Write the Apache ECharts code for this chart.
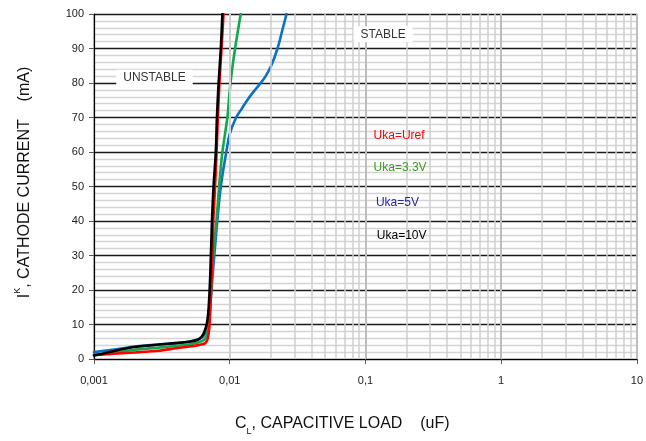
<!DOCTYPE html>
<html>
<head>
<meta charset="utf-8">
<script src="https://cdn.jsdelivr.net/npm/echarts@6/dist/echarts.min.js"></script>
<style>html,body{margin:0;padding:0;background:#fff}#c{width:646px;height:441px}</style>
</head>
<body>
<div id="c"></div>
<script>
// ---- data ----
const xTickValues = [0.001, 0.01, 0.1, 1, 10];
const xTickLabels = ['0,001', '0,01', '0,1', '1', '10'];
const minorMultipliers = [2, 3, 4, 5, 6, 7, 8, 9];
const minorDecades = [0.001, 0.01, 0.1, 1];

const seriesNames = ['Uka=5V', 'Uka=3.3V', 'Uka=Uref', 'Uka=10V'];

const curve5V = [
  [0.001, 2.0], [0.0015, 2.9], [0.002, 3.6], [0.003, 4.2], [0.004, 4.6], [0.005, 5.0],
  [0.006, 5.8], [0.0065, 7.0], [0.0068, 9.5], [0.0071, 14], [0.0074, 22], [0.0077, 30],
  [0.0081, 40], [0.0086, 50], [0.00944, 60], [0.01, 65.2],
  [0.01115, 70], [0.0121, 72.2], [0.01346, 75], [0.01465, 77], [0.0166, 79.6], [0.0184, 82],
  [0.0202, 85], [0.0225, 90], [0.0243, 95], [0.0262, 100]
];
const curve33V = [
  [0.001, 1.1], [0.0015, 2.0], [0.002, 2.7], [0.003, 3.3], [0.004, 3.8], [0.005, 4.2],
  [0.006, 4.9], [0.0065, 5.6], [0.0068, 7.0], [0.007, 10], [0.0072, 16], [0.0075, 28],
  [0.00798, 40], [0.00835, 50], [0.00883, 60], [0.00961, 70], [0.01013, 80], [0.01095, 90],
  [0.01205, 100]
];
const curveUref = [
  [0.001, 1.2], [0.0015, 1.6], [0.002, 1.9], [0.003, 2.4], [0.004, 3.1], [0.005, 3.6],
  [0.006, 4.1], [0.0066, 4.6], [0.0069, 6.0], [0.0071, 10], [0.0073, 20], [0.0075, 33],
  [0.00757, 40], [0.0078, 50], [0.008, 60], [0.00818, 70], [0.0084, 80], [0.0087, 90],
  [0.009, 100]
];
const curve10V = [
  [0.001, 1.0], [0.0013, 2.0], [0.0016, 2.8], [0.002, 3.5], [0.003, 4.2], [0.004, 4.6],
  [0.005, 5.0], [0.0058, 5.6], [0.0062, 6.4], [0.0065, 7.8], [0.0068, 10.5], [0.007, 15],
  [0.0072, 25], [0.0074, 40], [0.0076, 50], [0.0079, 60], [0.00805, 70], [0.00828, 80],
  [0.0086, 90], [0.00883, 100]
];

const annotations = [
  { text: 'UNSTABLE', x: 0.00279, y: 81.5, color: '#333333', box: true },
  { text: 'STABLE', x: 0.135, y: 94.1, color: '#333333', box: true },
  { text: 'Uka=Uref', x: 0.177, y: 64.8, color: '#ff0000', box: false },
  { text: 'Uka=3.3V', x: 0.18, y: 55.4, color: '#3c9a1e', box: false },
  { text: 'Uka=5V', x: 0.172, y: 45.3, color: '#2626a8', box: false },
  { text: 'Uka=10V', x: 0.185, y: 35.6, color: '#000000', box: false }
];

// ---- chart ----
const minorX = [];
minorDecades.forEach(d => minorMultipliers.forEach(m => minorX.push(+(d * m).toPrecision(6))));

const labelMap = {};
xTickValues.forEach((v, i) => { labelMap[v] = xTickLabels[i]; });

const FONT = 'Liberation Sans, Arial, sans-serif';
const chart = echarts.init(document.getElementById('c'), null, { renderer: 'canvas' });

const lineStyleFor = c => ({ color: c, width: 2.6, cap: 'round', join: 'round' });

const option = {
  animation: false,
  backgroundColor: '#ffffff',
  grid: { left: 94, right: 6, top: 14, bottom: 82 },
  xAxis: {
    type: 'log',
    logBase: 10,
    min: 0.001,
    max: 10,
    axisLine: { show: true, onZero: false, lineStyle: { color: '#000', width: 1.2 } },
    axisTick: { show: true, length: 5, lineStyle: { color: '#555' } },
    axisLabel: {
      margin: 16,
      fontFamily: FONT, fontSize: 11, color: '#222',
      formatter: v => labelMap[+v.toPrecision(6)] !== undefined ? labelMap[+v.toPrecision(6)] : ''
    },
    splitLine: { show: true, lineStyle: { color: '#bdbdbd', width: 2 } },
    minorTick: { show: false },
    minorSplitLine: { show: false }
  },
  yAxis: {
    type: 'value',
    min: 0,
    max: 100,
    interval: 10,
    name: '{m|I}{sup|K}{m|, CATHODE CURRENT    (mA)}',
    nameLocation: 'middle',
    nameRotate: 90,
    nameGap: 61,
    nameTextStyle: {
      padding: [0, 0, 0, 8],
      rich: {
        m: { fontFamily: FONT, fontSize: 16, color: '#111', lineHeight: 20, verticalAlign: 'bottom' },
        sup: { fontFamily: FONT, fontSize: 9, color: '#111', lineHeight: 10, verticalAlign: 'top' }
      }
    },
    axisLine: { show: true, lineStyle: { color: '#000', width: 1.2 } },
    axisTick: { show: true, length: 5, lineStyle: { color: '#555' } },
    axisLabel: { margin: 10, fontFamily: FONT, fontSize: 11, color: '#222' },
    splitLine: { show: true, lineStyle: { color: '#1a1a1a', width: 1.3 } },
    minorTick: { show: false, splitNumber: 5 },
    minorSplitLine: { show: true, lineStyle: { color: '#d4d4d4', width: 1.3 } }
  },
  graphic: [
    {
      type: 'text',
      left: 235,
      top: 416,
      style: {
        text: '{m|C}{sub|L}{m|, CAPACITIVE LOAD    (uF)}',
        rich: {
          m: { fontFamily: FONT, fontSize: 16, fill: '#111', lineHeight: 20, verticalAlign: 'top' },
          sub: { fontFamily: FONT, fontSize: 9, fill: '#111', lineHeight: 10, verticalAlign: 'bottom' }
        }
      }
    }
  ],
  series: [
    {
      name: 'minorgrid',
      type: 'line',
      data: [],
      z: 1,
      silent: true,
      markLine: {
        silent: true,
        symbol: 'none',
        animation: false,
        label: { show: false },
        lineStyle: { color: '#cfcfcf', width: 1.5, type: 'solid' },
        data: minorX.map(v => ({ xAxis: v }))
      }
    },
    {
      name: seriesNames[0], type: 'line', data: curve5V, showSymbol: false,
      smooth: 0.4, lineStyle: lineStyleFor('#0a72c4'), z: 3
    },
    {
      name: seriesNames[1], type: 'line', data: curve33V, showSymbol: false,
      smooth: 0.25, lineStyle: lineStyleFor('#12a84e'), z: 3
    },
    {
      name: seriesNames[2], type: 'line', data: curveUref, showSymbol: false,
      smooth: 0.25, lineStyle: lineStyleFor('#ff0000'), z: 3
    },
    {
      name: seriesNames[3], type: 'line', data: curve10V, showSymbol: false,
      smooth: 0.25, lineStyle: lineStyleFor('#000000'), z: 3
    },
    {
      name: 'annotations',
      type: 'scatter',
      data: [],
      z: 4,
      markPoint: {
        symbol: 'rect',
        symbolSize: 0,
        animation: false,
        data: annotations.map(a => ({
          coord: [a.x, a.y],
          label: {
            show: true,
            position: 'inside',
            formatter: a.text,
            fontFamily: FONT,
            fontSize: 12,
            color: a.color,
            backgroundColor: a.box ? '#ffffff' : 'transparent',
            padding: a.box ? [2, 7] : 0
          }
        }))
      }
    }
  ]
};
chart.setOption(option);
</script>
</body>
</html>
